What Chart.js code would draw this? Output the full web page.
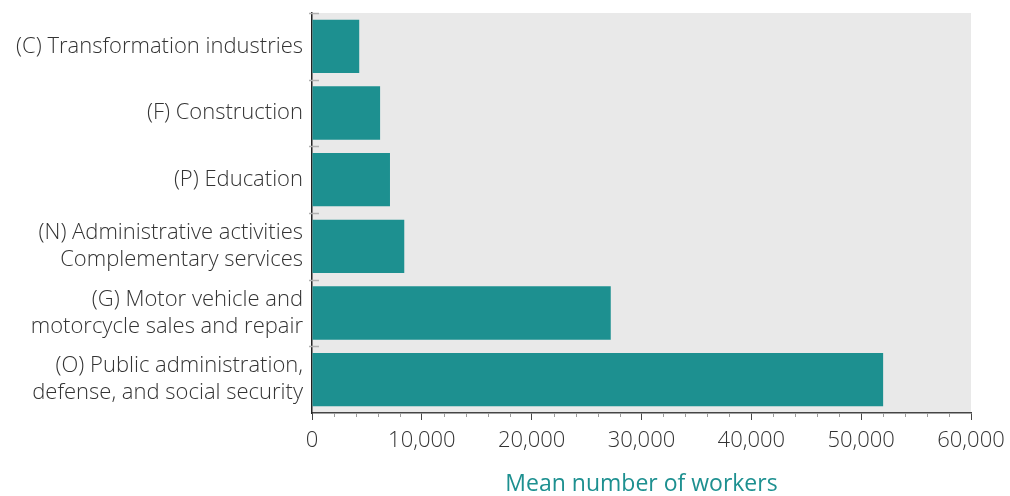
<!DOCTYPE html>
<html lang="en">
<head>
  <meta charset="UTF-8" />
  <title>Mean number of workers by sector</title>
  <script src="https://cdn.jsdelivr.net/npm/chart.js"></script>
  <style>
    body { margin: 0; background: #fff; }
    #wrap { width: 1010px; height: 496px; }
  </style>
</head>
<body>
  <div id="wrap"><canvas id="workersChart" width="1010" height="496"></canvas></div>

  <script>
    const categories = [
      '(C) Transformation industries',
      '(F) Construction',
      '(P) Education',
      ['(N) Administrative activities', 'Complementary services'],
      ['(G) Motor vehicle and', 'motorcycle sales and repair'],
      ['(O) Public administration,', 'defense, and social security']
    ];
    const meanWorkers = [4300, 6200, 7100, 8400, 27200, 52000];
    const xMax = 60000;
    const xMajorStep = 10000;
    const xMinorStep = 2000;

    const teal = '#1d9090';
    const textColor = '#333333';
    const labelFont = "'Open Sans', 'Lato', sans-serif";

    // grey plot background + category separators + minor ticks
    const decor = {
      id: 'decor',
      beforeDraw(chart) {
        const { ctx, chartArea: a } = chart;
        ctx.save();
        ctx.fillStyle = '#e9e9e9';
        ctx.fillRect(a.left, a.top, a.right - a.left, a.bottom - a.top);
        ctx.restore();
      },
      afterDraw(chart) {
        const { ctx, chartArea: a, scales } = chart;
        const y = scales.y, x = scales.x;
        ctx.save();
        ctx.strokeStyle = '#b0b0b0';
        ctx.lineWidth = 1.5;
        const n = categories.length;
        for (let i = 0; i < n; i++) {
          const p = i === 0 ? a.top : (y.getPixelForValue(i - 1) + y.getPixelForValue(i)) / 2;
          ctx.beginPath();
          ctx.moveTo(a.left - 3, Math.round(p) + 0.5);
          ctx.lineTo(a.left + 7, Math.round(p) + 0.5);
          ctx.stroke();
        }
        ctx.strokeStyle = '#9a9a9a';
        ctx.lineWidth = 1;
        for (let v = 0; v <= xMax; v += xMinorStep) {
          if (v % xMajorStep === 0) continue;
          const px = Math.round(x.getPixelForValue(v)) + 0.5;
          ctx.beginPath();
          ctx.moveTo(px, a.bottom);
          ctx.lineTo(px, a.bottom + 4);
          ctx.stroke();
        }
        ctx.restore();
      }
    };

    new Chart(document.getElementById('workersChart').getContext('2d'), {
      type: 'bar',
      data: {
        labels: categories,
        datasets: [{
          label: 'Mean number of workers',
          data: meanWorkers,
          backgroundColor: teal,
          borderWidth: 0,
          categoryPercentage: 0.8,
          barPercentage: 1.0
        }]
      },
      options: {
        indexAxis: 'y',
        responsive: false,
        animation: false,
        layout: { padding: { top: 13, right: 39, left: 0, bottom: 0 } },
        plugins: { legend: { display: false }, tooltip: { enabled: false } },
        scales: {
          x: {
            min: 0,
            max: xMax,
            afterFit(scale) { scale.height = 83; scale.paddingLeft = 0; scale.paddingRight = 0; },
            ticks: {
              stepSize: xMajorStep,
              padding: 8,
              color: textColor,
              font: { family: labelFont, size: 22, weight: 300 },
              maxRotation: 0,
              callback: v => v.toLocaleString('en-US')
            },
            grid: { drawOnChartArea: false, tickLength: 7, tickColor: '#444', tickWidth: 1 },
            border: { display: true, color: '#444', width: 1.5 },
            title: {
              display: true,
              text: 'Mean number of workers',
              color: teal,
              font: { family: labelFont, size: 23, weight: 500 },
              padding: { top: 4, bottom: -2 }
            }
          },
          y: {
            afterFit(scale) { scale.width = 312; scale.paddingTop = 0; scale.paddingBottom = 0; },
            ticks: {
              padding: 9,
              color: textColor,
              font: { family: labelFont, size: 22, weight: 300, lineHeight: 1.23 }
            },
            grid: { display: true, drawOnChartArea: false, drawTicks: false },
            border: { display: true, color: '#222', width: 1.5 }
          }
        }
      },
      plugins: [decor]
    });
  </script>
</body>
</html>
